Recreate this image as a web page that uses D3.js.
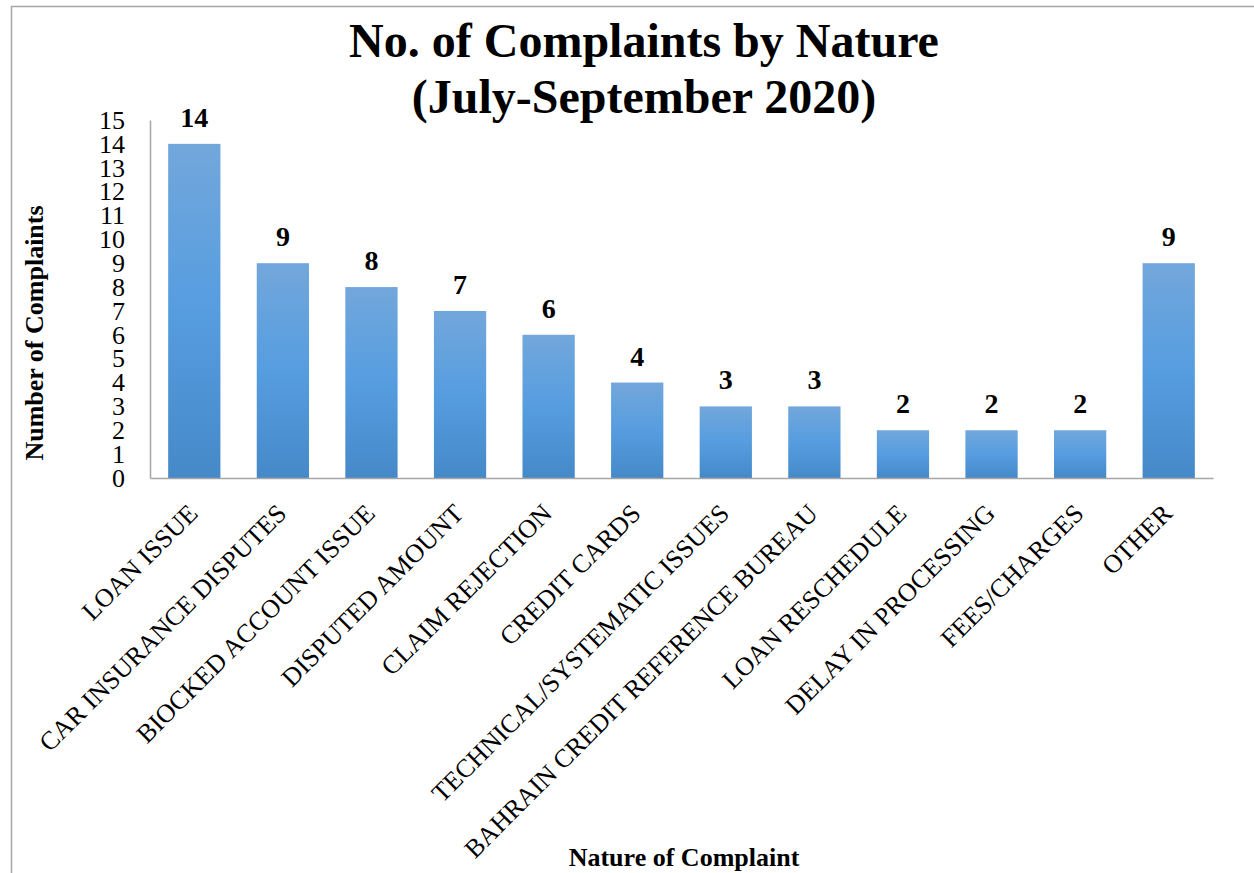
<!DOCTYPE html>
<html>
<head>
	<title>No. of Complaints by Nature</title>
	<style type="text/css">
		body {
			margin: 0;
			background: #fff;
		}

		text {
			font-family: "Liberation Serif", "Times New Roman", serif;
			fill: #000;
		}

		.axis path {
			stroke: #a6a6a6;
			stroke-width: 1.5px;
		}

		.axis .tick line {
			display: none;
		}
	</style>
	<script src="https://d3js.org/d3.v7.min.js"></script>
</head>
<body>
<script type="text/javascript">
	var categories = ["LOAN ISSUE", "CAR INSURANCE DISPUTES", "BIOCKED ACCOUNT ISSUE", "DISPUTED AMOUNT",
		"CLAIM REJECTION", "CREDIT CARDS", "TECHNICAL/SYSTEMATIC ISSUES", "BAHRAIN CREDIT REFERENCE BUREAU",
		"LOAN RESCHEDULE", "DELAY IN PROCESSING", "FEES/CHARGES", "OTHER"];
	var complaints = [14, 9, 8, 7, 6, 4, 3, 3, 2, 2, 2, 9];
	var yTicks = d3.range(0, 16);
	var titleLines = ["No. of Complaints by Nature", "(July-September 2020)"];

	var svg = d3.select("body").append("svg")
		.attr("width", 1254)
		.attr("height", 873);

	// chart frame
	svg.append("rect")
		.attr("x", 11.5)
		.attr("y", 6.5)
		.attr("width", 1300)
		.attr("height", 900)
		.attr("fill", "none")
		.attr("stroke", "#a6a6a6")
		.attr("stroke-width", 1.5);

	var plotLeft = 150, plotRight = 1213, plotTop = 120, plotBottom = 478;

	var x = d3.scaleBand()
		.domain(categories)
		.range([plotLeft, plotRight])
		.paddingInner(0.41)
		.paddingOuter(0.205);

	var y = d3.scaleLinear()
		.domain([0, 15])
		.range([plotBottom, plotTop]);

	var grad = svg.append("defs").append("linearGradient")
		.attr("id", "barGrad")
		.attr("x1", 0).attr("y1", 0)
		.attr("x2", 0).attr("y2", 1);
	grad.append("stop").attr("offset", "0%").attr("stop-color", "#72a7db");
	grad.append("stop").attr("offset", "50%").attr("stop-color", "#569de0");
	grad.append("stop").attr("offset", "100%").attr("stop-color", "#4589c8");

	svg.selectAll(".bar")
		.data(complaints)
		.enter().append("rect")
		.attr("class", "bar")
		.attr("x", function(d, i) { return x(categories[i]); })
		.attr("y", function(d) { return y(d); })
		.attr("width", x.bandwidth())
		.attr("height", function(d) { return y(0) - y(d); })
		.attr("fill", "url(#barGrad)");

	svg.selectAll(".value")
		.data(complaints)
		.enter().append("text")
		.attr("class", "value")
		.attr("x", function(d, i) { return x(categories[i]) + x.bandwidth() / 2; })
		.attr("y", function(d) { return y(d) - 17; })
		.attr("text-anchor", "middle")
		.style("font-size", "28px")
		.style("font-weight", "bold")
		.text(function(d) { return d; });

	// y axis
	var axisY = d3.axisLeft(y).tickValues(yTicks).tickSize(0).tickPadding(25);
	var gy = svg.append("g")
		.attr("class", "axis")
		.attr("transform", "translate(" + plotLeft + ",0)")
		.call(axisY);
	gy.selectAll("text")
		.style("font-size", "26px")
		.style("font-family", "'Liberation Serif', 'Times New Roman', serif");

	// x axis
	var gx = svg.append("g")
		.attr("class", "axis")
		.attr("transform", "translate(0," + plotBottom + ")")
		.call(d3.axisBottom(x).tickSize(0).tickSizeOuter(0));
	gx.selectAll(".tick text")
		.attr("text-anchor", "end")
		.attr("x", 0)
		.attr("y", 0)
		.attr("dy", 0)
		.attr("transform", "translate(5,37) rotate(-45)")
		.style("font-size", "26px")
		.style("font-family", "'Liberation Serif', 'Times New Roman', serif");

	// titles
	svg.selectAll(".title")
		.data(titleLines)
		.enter().append("text")
		.attr("class", "title")
		.attr("x", 644)
		.attr("y", function(d, i) { return 57 + i * 56; })
		.attr("text-anchor", "middle")
		.style("font-size", "48px")
		.style("font-weight", "bold")
		.text(function(d) { return d; });

	svg.append("text")
		.attr("transform", "translate(43,333) rotate(-90)")
		.attr("text-anchor", "middle")
		.style("font-size", "26px")
		.style("font-weight", "bold")
		.text("Number of Complaints");

	svg.append("text")
		.attr("x", 684)
		.attr("y", 866)
		.attr("text-anchor", "middle")
		.style("font-size", "26px")
		.style("font-weight", "bold")
		.text("Nature of Complaint");
</script>
</body>
</html>
